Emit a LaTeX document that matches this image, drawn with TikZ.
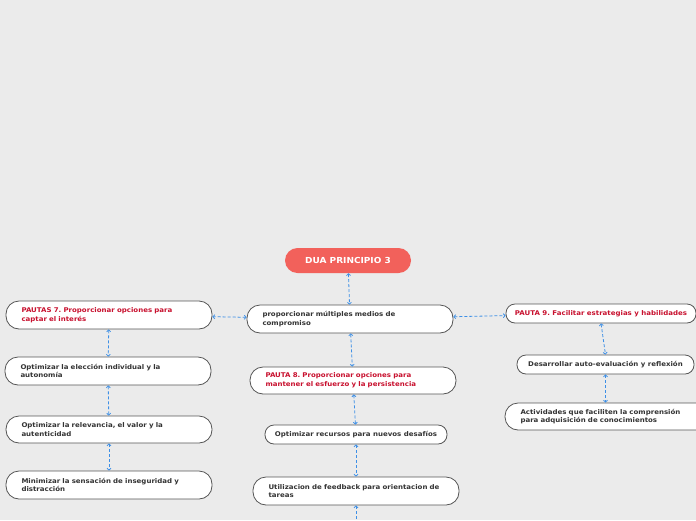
\documentclass[tikz,border=0pt]{standalone}
\usepackage{fontspec}
\setmainfont{DejaVu Sans}[FakeStretch=1.08]
\usetikzlibrary{arrows.meta}
\frenchspacing
\definecolor{bg}{HTML}{EBEBEB}
\definecolor{boxline}{HTML}{555555}
\definecolor{txt}{HTML}{333333}
\definecolor{redtxt}{HTML}{C8102E}
\definecolor{rootfill}{HTML}{F2615B}
\definecolor{linkblue}{HTML}{3D8FE6}
\tikzset{
  box/.style={draw=boxline, fill=white, line width=0.8pt, rounded corners=13pt,
    minimum height=28pt, inner xsep=15.5pt, inner ysep=0pt,
    font=\fontsize{6.5}{8.8}\selectfont\bfseries, text=txt, align=left},
  thinbox/.style={box, rounded corners=9pt, minimum height=19pt, align=center, inner xsep=4pt},
  redtext/.style={text=redtxt},
  link/.style={draw=linkblue, line width=0.8pt, dash pattern=on 3pt off 2pt,
    {Straight Barb[length=1.8pt,width=4pt]}-{Straight Barb[length=1.8pt,width=4pt]}},
}
\begin{document}
\begin{tikzpicture}[x=1pt,y=-1pt]
\useasboundingbox (0,0) rectangle (696,520);
\fill[bg] (0,0) rectangle (696,520);

\node[draw=none, fill=rootfill, rounded corners=12.5pt, minimum width=126pt, minimum height=25pt,
  inner sep=0pt, text=white, font=\fontsize{8.3}{9}\selectfont\bfseries] (root) at (348,260.5) {DUA PRINCIPIO 3};

\node[box, minimum width=206pt, text width=175pt] (main) at (350,319)
  {proporcionar múltiples medios de\\compromiso};

\node[box, redtext, minimum width=206pt, text width=175pt] (p7) at (109,315)
  {PAUTAS 7. Proporcionar opciones para\\captar el interés};
\node[box, minimum width=206pt, text width=175pt] (l1) at (108,371)
  {Optimizar la elección individual y la\\autonomía};
\node[box, minimum width=206pt, minimum height=27pt, text width=175pt] (l2) at (109,429.5)
  {Optimizar la relevancia, el valor y la\\autenticidad};
\node[box, minimum width=206pt, text width=175pt] (l3) at (109,485)
  {Minimizar la sensación de inseguridad y\\distracción};

\node[box, redtext, minimum width=206pt, minimum height=27pt, text width=175pt] (p8) at (353,380.5)
  {PAUTA 8. Proporcionar opciones para\\mantener el esfuerzo y la persistencia};
\node[thinbox, minimum width=182pt] (m1) at (356,434.5)
  {Optimizar recursos para nuevos desafíos};
\node[box, minimum width=206pt, text width=175pt] (m2) at (356,491)
  {Utilizacion de feedback para orientacion de\\tareas};
\coordinate (m3) at (356,530);

\node[thinbox, redtext, minimum width=190pt] (p9) at (601,313.5)
  {PAUTA 9. Facilitar estrategias y habilidades};
\node[thinbox, minimum width=177pt] (r1) at (605.5,364.5)
  {Desarrollar auto-evaluación y reflexión};
\node[box, minimum width=206pt, minimum height=27pt, text width=175pt] (r2) at (608,416.5)
  {Actividades que faciliten la comprensión\\para adquisición de conocimientos};

\draw[link] (root) -- (main);
\draw[link] (main) -- (p7);
\draw[link] (main) -- (p9);
\draw[link] (main) -- (p8);
\draw[link] (p7) -- (l1);
\draw[link] (l1) -- (l2);
\draw[link] (l2) -- (l3);
\draw[link] (p8) -- (m1);
\draw[link] (m1) -- (m2);
\draw[link] (m2.south) -- (m3);
\draw[link] (p9.south) -- (r1.north);
\draw[link] (r1.south) -- (r2.north -| r1.south);
\end{tikzpicture}
\end{document}
